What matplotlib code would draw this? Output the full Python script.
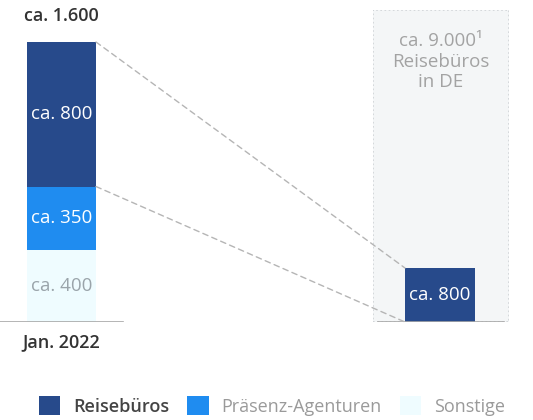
import matplotlib
matplotlib.use("Agg")
import matplotlib.pyplot as plt
from matplotlib.patches import Patch, Rectangle, ConnectionPatch

plt.rcParams["font.family"] = ["Open Sans", "DejaVu Sans"]

# data
segments = ["Reisebüros", "Präsenz-Agenturen", "Sonstige"]
values_2022 = [800, 350, 400]  # top to bottom
labels_2022 = ["ca. 800", "ca. 350", "ca. 400"]
total_label = "ca. 1.600"
period_label = "Jan. 2022"
de_value = 800
de_label = "ca. 800"
box_text = "ca. 9.000¹\nReisebüros\nin DE"

colors = ["#274a8b", "#1f8cf0", "#effcff"]
label_colors = ["white", "white", "#9aa4aa"]
legend_text_colors = ["#444444", "#9a9a9a", "#9a9a9a"]

W, H = 533, 420
fig = plt.figure(figsize=(W / 100, H / 100), dpi=100)

# left stacked bar
ax1 = fig.add_axes([0 / W, (H - 322) / H, 125 / W, 312 / H])
bottom = 0
stack = list(zip(values_2022, colors, labels_2022, label_colors))[::-1]
for v, c, lab, lc in stack:
    ax1.bar(0, v, bottom=bottom, width=1, color=c, edgecolor="none")
    ax1.text(0, bottom + v / 2, lab, ha="center", va="center", color=lc, fontsize=13.5)
    bottom += v
total = bottom
ax1.set_xlim(-0.5 - 27 / 69, 0.5 + 29 / 69)
ax1.set_ylim(0, total * 312 / 280)
ax1.axhline(0, xmax=0.98, color="#a8a8a8", lw=1.2)
ax1.text(0, total + 95, total_label, ha="center", va="bottom", color="#333333", fontsize=13,
         fontweight="semibold")
ax1.text(0, -60, period_label, ha="center", va="top", color="#333333", fontsize=13,
         fontweight="semibold")
ax1.axis("off")

# right panel with box
ax2 = fig.add_axes([373 / W, (H - 322) / H, 136 / W, 312 / H])
ax2.add_patch(Rectangle((0, 0), 1, 1, transform=ax2.transAxes, facecolor="#f4f6f7",
                        edgecolor="#cfd3d6", linestyle=(0, (1, 1.5)), lw=1.2, zorder=0))
ax2.bar(0, de_value, width=1, color=colors[0], edgecolor="none", zorder=2)
ax2.text(0, de_value / 2, de_label, ha="center", va="center", color="white", fontsize=13.5,
         zorder=3)
ax2.set_xlim(-67 / 70, 69 / 70)
ax2.set_ylim(0, de_value * 312 / 54)
ax2.axhline(0, xmin=0.04, xmax=0.96, color="#a8a8a8", lw=1.2, zorder=3)
ax2.text(0.5, 0.93, box_text, transform=ax2.transAxes, ha="center", va="top",
         color="#a3a3a3", fontsize=13.5, linespacing=1.2)
ax2.axis("off")

# dashed connectors
for ya, yb in [(total, de_value), (values_2022[1] + values_2022[2], 0)]:
    con = ConnectionPatch(xyA=(0.5, ya), coordsA=ax1.transData, xyB=(-0.5, yb), coordsB=ax2.transData,
                          color="#b5b5b5", linestyle=(0, (4, 3)), lw=1)
    fig.add_artist(con)

# legend
handles = [Patch(facecolor=c, edgecolor="none") for c in colors]
leg = fig.legend(handles, segments, loc="center", bbox_to_anchor=(0.51, (H - 406) / H), ncol=3,
                 frameon=False, fontsize=13, handlelength=1.2, handleheight=1.2,
                 handletextpad=0.7, columnspacing=1.0)
for t, c, w in zip(leg.get_texts(), legend_text_colors, ["semibold", "normal", "normal"]):
    t.set_color(c)
    t.set_fontweight(w)

fig.savefig("out.png", dpi=100)
